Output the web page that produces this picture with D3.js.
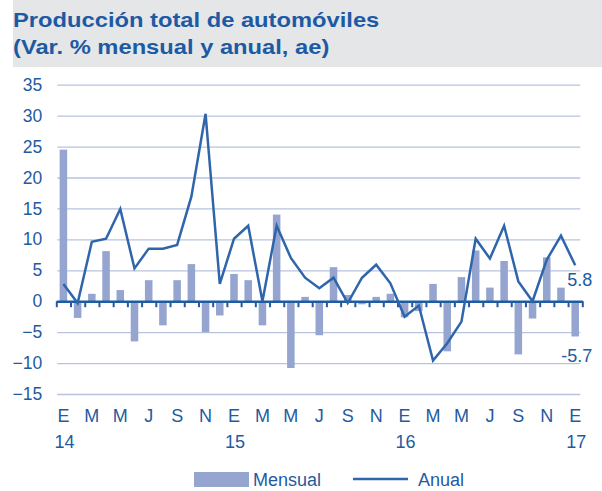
<!DOCTYPE html>
<html><head><meta charset="utf-8">
<script src="https://cdn.jsdelivr.net/npm/d3@7"></script>
<style>
html,body{margin:0;padding:0;background:#fff;}
svg{display:block;font-family:"Liberation Sans",Arial,sans-serif;}
</style></head>
<body>
<svg id="c" width="602" height="491"></svg>
<script>
const titleLines = ["Producción total de automóviles", "(Var. % mensual y anual, ae)"];
const monthLetters = ["E","F","M","A","M","J","J","A","S","O","N","D"];
const yearLabels = ["14","15","16","17"];
const yTicks = [-15,-10,-5,0,5,10,15,20,25,30,35];
const mensual = [24.5,-2.7,1.2,8.1,1.8,-6.5,3.4,-3.9,3.4,6.0,-5.0,-2.3,
                 4.4,3.4,-3.9,14.0,-10.8,0.7,-5.5,5.5,1.0,-0.5,0.7,1.2,
                 -2.6,-1.6,2.8,-8.1,3.9,8.2,2.2,6.5,-8.6,-2.8,7.1,2.2,-5.7];
const anual = [2.8,-0.3,9.6,10.1,14.9,5.3,8.5,8.5,9.1,16.9,30.3,2.8,
               10.1,12.2,0.0,12.2,7.0,3.8,2.1,3.8,-0.3,3.8,5.9,2.9,
               -2.5,-0.7,-9.6,-6.8,-3.3,10.1,6.9,12.2,3.2,0.0,6.7,10.6,5.8];
const seriesNames = ["Mensual","Anual"];

const C = {title:"#1c5aa3", text:"#1f5b9f", bar:"#95a5cf", line:"#2f65ab", grid:"#b9c3df", axis:"#1f5ba0", bg:"#e5e6e8"};
const svg = d3.select("#c");
const idx = d3.range(mensual.length);
const L = 56.3, R = 582.3, T = 84.7, B = 394;
const x = d3.scaleBand().domain(idx).range([L,R]).paddingInner(0).paddingOuter(0);
const xb = d3.scaleLinear().domain([0, idx.length]).range([L,R]);
const y = d3.scaleLinear().domain([-15,35]).range([B,T]);
const barW = x.bandwidth()*0.53;

// title
svg.append("rect").attr("x",13).attr("y",0).attr("width",589).attr("height",67).attr("fill",C.bg);
const tg = svg.append("g").attr("transform","translate(13,0) scale(1.13,1)");
tg.selectAll("text").data(titleLines).join("text")
  .attr("x",0).attr("y",(d,i)=>27+i*27)
  .attr("fill",C.title).attr("font-weight","bold").attr("font-size",21).text(d=>d);

// grid + y labels
const gy = svg.append("g").attr("transform",`translate(${L+1},0)`)
  .call(d3.axisLeft(y).tickValues(yTicks).tickSize(-(R-L-3)).tickPadding(15).tickFormat(d3.format("d")));
gy.select(".domain").remove();
gy.selectAll(".tick line").attr("stroke",C.grid).attr("stroke-width",1.3).attr("opacity",d=>d===0?0:1);
gy.selectAll(".tick text").attr("fill",C.text).attr("font-size",17.5).attr("font-family","Liberation Sans, Arial, sans-serif");

// bars
svg.append("g").selectAll("rect").data(idx).join("rect")
  .attr("x",i=>x(i)+(x.bandwidth()-barW)/2)
  .attr("width",barW)
  .attr("y",i=>y(Math.max(0,mensual[i])))
  .attr("height",i=>Math.abs(y(mensual[i])-y(0)))
  .attr("fill",C.bar);

// zero axis with ticks at boundaries
const ax = svg.append("g").attr("transform",`translate(0,${y(0)})`)
  .call(d3.axisBottom(xb).tickValues(d3.range(idx.length+1)).tickSize(6).tickSizeOuter(0).tickFormat(""));
ax.select(".domain").attr("stroke",C.axis).attr("stroke-width",2.6);
ax.selectAll(".tick line").attr("stroke",C.axis).attr("stroke-width",2);

// line
svg.append("path").datum(idx)
  .attr("d",d3.line().x(i=>x(i)+x.bandwidth()/2).y(i=>y(anual[i])))
  .attr("fill","none").attr("stroke",C.line).attr("stroke-width",2.5).attr("stroke-linejoin","miter");

// x labels
const labIdx = idx.filter(i=>i%2===0);
svg.append("g").selectAll("text").data(labIdx).join("text")
  .attr("x",i=>x(i)+x.bandwidth()/2).attr("y",422)
  .attr("text-anchor","middle").attr("fill",C.text).attr("font-size",18)
  .text(i=>monthLetters[i%12]);
svg.append("g").selectAll("text").data(yearLabels).join("text")
  .attr("x",(d,k)=>x(k*12)+x.bandwidth()/2+1).attr("y",448)
  .attr("text-anchor","middle").attr("fill",C.text).attr("font-size",18)
  .text(d=>d);

// end labels
const last = idx.length-1;
svg.append("text").attr("x",x(last)+x.bandwidth()/2+17).attr("y",y(anual[last])+21)
  .attr("text-anchor","end").attr("fill",C.text).attr("font-size",18).text(anual[last].toFixed(1));
svg.append("text").attr("x",x(last)+x.bandwidth()/2+17).attr("y",y(mensual[last])+26)
  .attr("text-anchor","end").attr("fill",C.text).attr("font-size",18).text(mensual[last].toFixed(1));

// legend
const lg = svg.append("g");
lg.append("rect").attr("x",194).attr("y",472).attr("width",55).attr("height",15).attr("fill",C.bar);
lg.append("text").attr("x",253).attr("y",486).attr("fill",C.text).attr("font-size",18).text(seriesNames[0]);
lg.append("line").attr("x1",353).attr("x2",408).attr("y1",479).attr("y2",479).attr("stroke",C.line).attr("stroke-width",2.5);
lg.append("text").attr("x",418).attr("y",486).attr("fill",C.text).attr("font-size",18).text(seriesNames[1]);
</script>
</body></html>
